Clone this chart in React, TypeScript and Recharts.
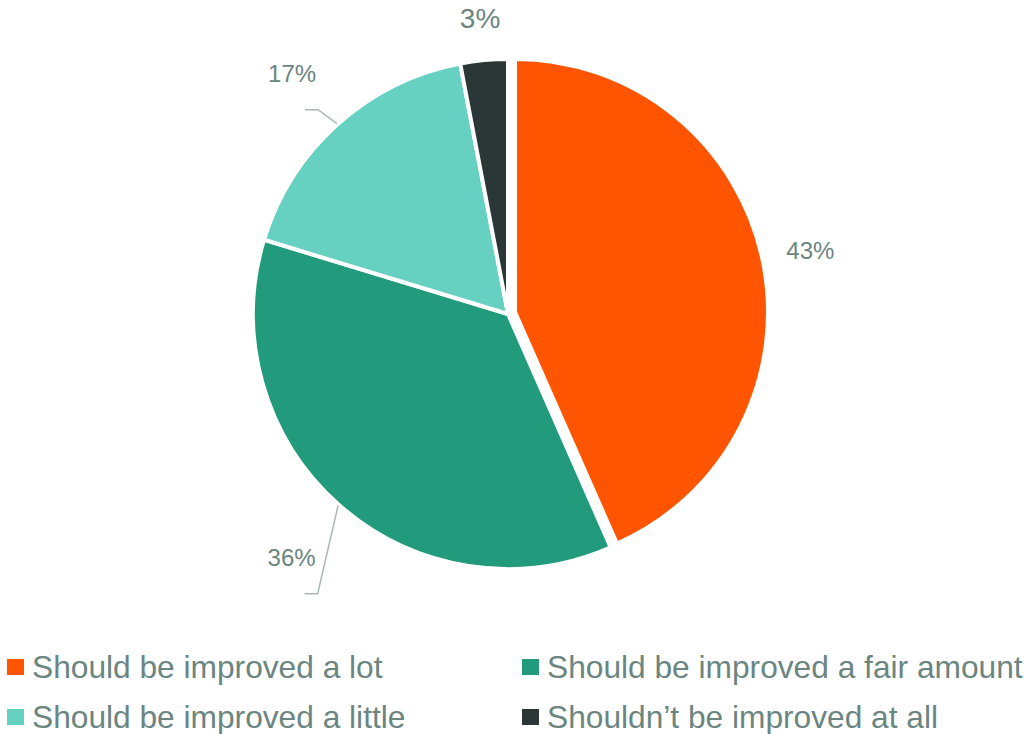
import React from 'react';
import { PieChart, Pie, Cell, Legend } from 'recharts';

const categories = [
  'Should be improved a lot',
  'Should be improved a fair amount',
  'Should be improved a little',
  'Shouldn\u2019t be improved at all',
];
const shares = [43.4, 36.3, 17.3, 3.0];
const shareLabels = ['43%', '36%', '17%', '3%'];
const colors = ['#FF5500', '#229B7D', '#66D1C1', '#2B3636'];

const data = categories.map((name, i) => ({ name, value: shares[i], label: shareLabels[i] }));

const TEXT = '#6B8581';
const LEADER = '#A9B8B6';
const FONT = '"Liberation Sans", Arial, sans-serif';
const RAD = Math.PI / 180;

// label distance beyond the outer radius, per slice
const labelGap = [54, 71, 68, 42];
const labelSize = [24, 24, 24, 28];
const hasLeader = [false, true, true, false];

const renderLabel = (props: any) => {
  const { cx, cy, midAngle, outerRadius, index } = props;
  const cos = Math.cos(-midAngle * RAD);
  const sin = Math.sin(-midAngle * RAD);
  const r = outerRadius + labelGap[index];
  const x = cx + r * cos;
  const y = cy + r * sin;
  const ex = cx + (outerRadius + 1) * cos;
  const ey = cy + (outerRadius + 1) * sin;
  return (
    <g key={`lbl-${index}`}>
      {hasLeader[index] && (
        <polyline
          points={`${ex},${ey} ${x + 26},${y + 36} ${x + 13},${y + 36}`}
          fill="none"
          stroke={LEADER}
          strokeWidth={1.5}
        />
      )}
      <text
        x={x}
        y={y}
        fill={TEXT}
        fontSize={labelSize[index]}
        fontFamily={FONT}
        textAnchor="middle"
        dominantBaseline="central"
      >
        {shareLabels[index]}
      </text>
    </g>
  );
};

const renderLegend = () => (
  <div
    style={{
      display: 'grid',
      gridTemplateColumns: '515px 509px',
      fontFamily: FONT,
      fontSize: 31.7,
      color: TEXT,
    }}
  >
    {[0, 1, 2, 3].map((i) => (
      <div key={i} style={{ display: 'flex', alignItems: 'center', height: 50, paddingLeft: 7, whiteSpace: 'nowrap' }}>
        <span style={{ display: 'inline-block', width: 17, height: 16, background: colors[i], marginRight: 8 }} />
        <span>{categories[i]}</span>
      </div>
    ))}
  </div>
);

export default function App() {
  return (
    <div style={{ position: 'absolute', left: 0, top: 0, width: 1024, height: 734, background: '#fff' }}>
      <PieChart width={1024} height={734} margin={{ top: 0, right: 0, bottom: 0, left: 0 }}>
        {/* all slices except the exploded one */}
        <Pie
          data={data}
          dataKey="value"
          cx={508}
          cy={314}
          outerRadius={255}
          startAngle={90}
          endAngle={-270}
          stroke="#fff"
          strokeWidth={4}
          label={renderLabel}
          labelLine={false}
          isAnimationActive={false}
        >
          {data.map((d, i) => (
            <Cell key={d.name} fill={i === 0 ? 'transparent' : colors[i]} stroke={i === 0 ? 'none' : '#fff'} />
          ))}
        </Pie>
        {/* exploded orange slice */}
        <Pie
          data={data}
          dataKey="value"
          cx={515}
          cy={312}
          outerRadius={253}
          startAngle={90}
          endAngle={-270}
          stroke="#fff"
          strokeWidth={4}
          isAnimationActive={false}
        >
          {data.map((d, i) => (
            <Cell key={d.name} fill={i === 0 ? colors[0] : 'transparent'} stroke={i === 0 ? '#fff' : 'none'} />
          ))}
        </Pie>
        <Legend
          content={renderLegend}
          wrapperStyle={{ position: 'absolute', top: 642, left: 0, width: 1024 }}
        />
      </PieChart>
    </div>
  );
}
